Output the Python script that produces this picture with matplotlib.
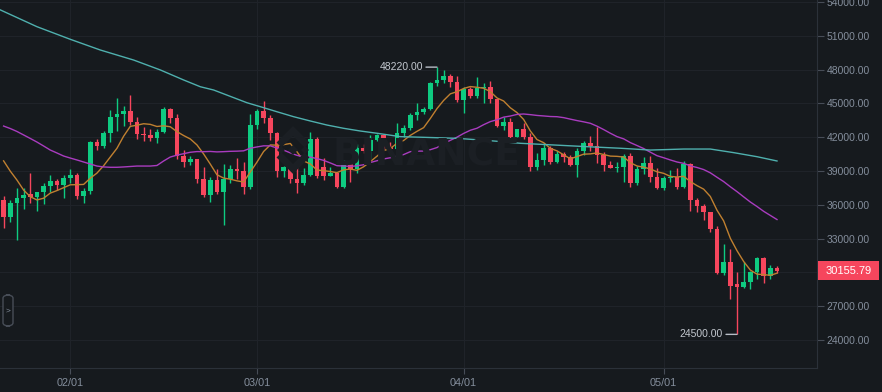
import matplotlib
matplotlib.use("Agg")
import matplotlib.pyplot as plt
import matplotlib.transforms as mtransforms
from matplotlib.patches import Rectangle, FancyBboxPatch, Polygon
import numpy as np
import pandas as pd

plt.rcParams["font.family"] = ["Liberation Sans", "DejaVu Sans"]

# daily candles, first one is 2022-01-22
start_date = "2022-01-22"
opens = [36430, 34940, 36190, 36600, 36930, 36720, 37110, 37670, 38110, 37760,
         38410, 38650, 36810, 37250, 41550, 41250, 42350, 43820, 44060, 44330,
         43380, 42260, 42170, 41960, 42490, 44500, 43730, 40360, 39830, 40040,
         38260, 36870, 38200, 37110, 38290, 39150, 39000, 37550, 43080, 44330,
         43730, 42350, 39000, 39330, 38290, 37910, 38650, 41870, 39330, 38580,
         38800, 37610, 39620, 39150, 41070, 40800, 41750, 42200, 41100, 40930,
         42350, 42840, 43970, 44260, 44480, 46790, 47080, 47430, 46930, 45300,
         46250, 45680, 46340, 46480, 45360, 43000, 43380, 42050, 42700, 42050,
         39380, 39980, 41070, 39830, 40510, 40270, 39530, 40780, 41460, 41250,
         40420, 39530, 39290, 39380, 40360, 37960, 39180, 39680, 38440, 37520,
         38410, 38490, 37550, 39620, 36430, 35890, 35340, 33850, 29970, 30900,
         28940, 28730, 29180, 30010, 31300, 29710, 30420]
highs = [36780, 36430, 37520, 37490, 38820, 37140, 37910, 38620, 38290, 38650,
         39180, 38800, 37470, 41690, 41810, 42580, 44420, 45450, 44770, 45750,
         43820, 42930, 42700, 42700, 44710, 44600, 44030, 40860, 40330, 40100,
         39380, 38490, 39150, 39620, 39530, 40180, 39770, 44030, 44480, 45210,
         43970, 42500, 39440, 39600, 39440, 39240, 42490, 42000, 40130, 39380,
         38940, 39980, 39830, 41400, 41370, 42200, 42280, 42300, 41600, 43290,
         43080, 44120, 45010, 44710, 46870, 48220, 47970, 47610, 47460, 46430,
         46480, 47320, 46790, 46990, 45400, 43820, 43680, 42750, 43290, 42350,
         40630, 41460, 41220, 40800, 40660, 40420, 41070, 41660, 42110, 42930,
         40710, 39890, 39830, 40480, 40570, 39440, 40220, 40330, 39240, 38560,
         39090, 39290, 39920, 39740, 36580, 36070, 35400, 34120, 32520, 32080,
         30010, 30950, 30150, 31390, 31350, 30660, 30570]
lows = [33940, 34500, 32880, 35630, 36190, 35450, 36070, 37160, 37310, 36580,
        37910, 36520, 36190, 36960, 40860, 41070, 41570, 42580, 43000, 43080,
        41840, 41660, 41660, 41460, 42350, 43230, 40040, 39380, 39530, 37910,
        36720, 36280, 36960, 34210, 37910, 38290, 36960, 37400, 42730, 43230,
        41750, 38490, 38490, 37910, 37070, 37760, 38600, 38410, 38200, 38560,
        37470, 37470, 38050, 38800, 40570, 40040, 41630, 40860, 40710, 40800,
        41990, 42640, 43530, 44060, 44400, 46570, 46790, 46480, 45150, 44120,
        45450, 45450, 45060, 45010, 42940, 42640, 41900, 41990, 41810, 39030,
        39090, 39530, 39620, 39680, 39830, 39470, 38440, 40420, 40780, 39680,
        39030, 39240, 38890, 38050, 37610, 37760, 38730, 38050, 37380, 37310,
        38000, 37400, 37520, 35480, 35390, 34650, 33610, 29900, 29770, 27610,
        24500, 28590, 28530, 29390, 29030, 29390, 29970]
closes = [34940, 36190, 36600, 36870, 36720, 37110, 37670, 38110, 37760, 38410,
          38650, 36810, 37250, 41550, 41250, 42350, 43820, 44060, 44330, 43380,
          42260, 42170, 41960, 42490, 44500, 43730, 40360, 39830, 40040, 38260,
          36870, 38200, 37110, 38290, 39150, 39000, 37550, 43080, 44330, 43730,
          42350, 39000, 39330, 38290, 37910, 38650, 41870, 38580, 38580, 38800,
          37610, 39620, 39150, 41070, 40800, 41750, 42200, 41100, 40930, 42350,
          42840, 43970, 44260, 44480, 46790, 47080, 47430, 46930, 45300, 46250,
          45680, 46340, 46480, 45360, 43000, 43380, 42050, 42700, 42050, 39380,
          39980, 41070, 39830, 40510, 40270, 39530, 40780, 41460, 41250, 40420,
          39530, 39290, 39380, 40360, 37960, 39180, 39680, 38440, 37520, 38410,
          38490, 37550, 39620, 36430, 35890, 35340, 33850, 29970, 30900, 28820,
          28730, 29180, 30010, 31300, 29710, 30420, 30155.79]

# moving-average values for the first candles (their window starts off screen)
ma7_head = [39900, 38990, 38200, 37310, 36720, 36430]
ma25_head = [42990, 42770, 42510, 42200, 41890, 41570, 41220, 40860, 40600, 40330,
             40150, 39980, 39800, 39620, 39440, 39360, 39330, 39330, 39360, 39400,
             39440, 39440, 39440, 39490]
# MA(99) (day offset from start_date, value)
ma99_day = [-0.5, 5, 10, 14.5, 19.5, 23.5, 27, 29.5, 31.5, 36.5, 38.5, 41, 43.5, 46,
            48.5, 51, 53.5, 56, 59.5, 63, 68, 73, 77.5, 82.5, 87.5, 92.5, 97, 102,
            106, 109.5, 113, 116]
ma99_val = [53300, 51810, 50690, 49740, 48850, 47970, 47080, 46480, 46190, 45060,
            44710, 44260, 43820, 43440, 43080, 42790, 42550, 42350, 42050, 41990,
            41900, 41690, 41460, 41310, 41160, 41020, 40860, 40950, 40950, 40630,
            40270, 39890]

y_ticks = [24000, 27000, 30000, 33000, 36000, 39000, 42000, 45000, 48000, 51000, 54000]

BG = "#161a1e"
GRID = "#1f2329"
TXT = "#848e9c"
UP = "#0ecb81"
DOWN = "#f6465d"

dates = pd.date_range(start_date, periods=len(closes), freq="D")
x = np.arange(len(closes))
o = np.array(opens, dtype=float)
c = np.array(closes, dtype=float)

ma7 = pd.Series(c).rolling(7).mean().values
ma7[:6] = ma7_head
ma25 = pd.Series(c).rolling(25).mean().values
ma25[:24] = ma25_head

fig = plt.figure(figsize=(8.82, 3.92), dpi=100)
fig.patch.set_facecolor(BG)
ax = fig.add_axes([0, 24 / 392, 817 / 882, 368 / 392])
ax.set_facecolor(BG)

colors = [UP if cc >= oo else DOWN for oo, cc in zip(o, c)]
ax.vlines(x, lows, highs, colors=colors, lw=1, zorder=3)
body_low = np.minimum(o, c)
body_h = np.maximum(np.abs(c - o), 70)
ax.bar(x, body_h, bottom=body_low, width=0.7, color=colors, linewidth=0, zorder=4)

ax.plot(x, ma7, color="#c08030", lw=1.0, zorder=5)
ax.plot(x, ma25, color="#a93cbf", lw=1.0, zorder=5)
ax.plot(ma99_day, ma99_val, color="#4fb0ae", lw=1.0, zorder=5)

ax.set_xlim(-0.54, 122.0)
ax.set_ylim(21515, 54178)

# axes, ticks, grid
for s in ["top", "left"]:
    ax.spines[s].set_visible(False)
for s in ["right", "bottom"]:
    ax.spines[s].set_color("#2b3139")
ax.yaxis.tick_right()
ax.set_yticks(y_ticks)
last = closes[-1]
# the label nearest the last price sits under the price tag
ax.set_yticklabels(["" if abs(v - last) < 1500 else f"{v:.2f}" for v in y_ticks])
month_starts = [i for i, d in enumerate(dates) if d.day == 1]
ax.set_xticks(month_starts)
ax.set_xticklabels([dates[i].strftime("%m/%d") for i in month_starts])
ax.tick_params(axis="y", length=5, color="#474d57", labelcolor=TXT, labelsize=7.5, pad=2)
ax.tick_params(axis="x", length=4, color="#474d57", labelcolor=TXT, labelsize=7.8, pad=3)
ax.grid(color=GRID, lw=0.8, zorder=0)
ax.set_axisbelow(True)

# high / low marks
i_hi = int(np.argmax(highs))
i_lo = int(np.argmin(lows))
for i, v in [(i_hi, highs[i_hi]), (i_lo, lows[i_lo])]:
    ax.annotate("", xy=(i, v), xytext=(-11, 0), textcoords="offset pixels",
                arrowprops=dict(arrowstyle="-", color="#b7bdc6", lw=1, shrinkA=0, shrinkB=0))
    ax.annotate(f"{v:.2f}", xy=(i, v), xytext=(-14, 0), textcoords="offset pixels",
                ha="right", va="center", color="#c3c8cf", fontsize=7.5)

# last price tag on the price axis
span = ax.get_ylim()[1] - ax.get_ylim()[0]
tag_h = 19 * span / 368
tr = mtransforms.blended_transform_factory(ax.transAxes, ax.transData)
ax.add_patch(Rectangle((1.0015, last - tag_h / 2), 61 / 817, tag_h, transform=tr,
                       facecolor=DOWN, edgecolor="none", clip_on=False, zorder=10))
ax.text(1.0015 + 30.5 / 817, last, f"{last:.2f}", transform=tr, ha="center", va="center",
        color="white", fontsize=8, zorder=11, clip_on=False)

# faint watermark
def px(xp, yp):
    return (xp / 882, 1 - yp / 392)

wm = "#1b1f24"
cx, cy = 293, 150
for dx, dy, r in [(0, 0, 5), (-12, 0, 4), (12, 0, 4)]:
    pts = [px(cx + dx, cy + dy - r), px(cx + dx + r, cy + dy),
           px(cx + dx, cy + dy + r), px(cx + dx - r, cy + dy)]
    fig.add_artist(Polygon(pts, closed=True, facecolor=wm, edgecolor="none",
                           transform=fig.transFigure, zorder=1))
for sgn in (-1, 1):
    pts = [px(cx - 14, cy + sgn * 5), px(cx, cy + sgn * 19), px(cx + 14, cy + sgn * 5)]
    fig.add_artist(Polygon(pts, closed=False, fill=False, edgecolor=wm, lw=5,
                           transform=fig.transFigure, zorder=1))
fig.text(333 / 882, 1 - 155 / 392, "BINANCE", color=wm, fontsize=27, fontweight="bold",
         family="DejaVu Sans", ha="left", va="center", zorder=1)

# collapse button on the left edge
fig.add_artist(FancyBboxPatch((3 / 882, 1 - 326 / 392), 10 / 882, 31 / 392,
                              boxstyle="round,pad=0,rounding_size=0.008",
                              transform=fig.transFigure, facecolor=BG,
                              edgecolor="#474d57", lw=1, zorder=12))
fig.text(8 / 882, 1 - 311 / 392, ">", color="#848e9c", fontsize=6, ha="center",
         va="center", zorder=13)

fig.savefig("out.png", dpi=100, facecolor=BG)
